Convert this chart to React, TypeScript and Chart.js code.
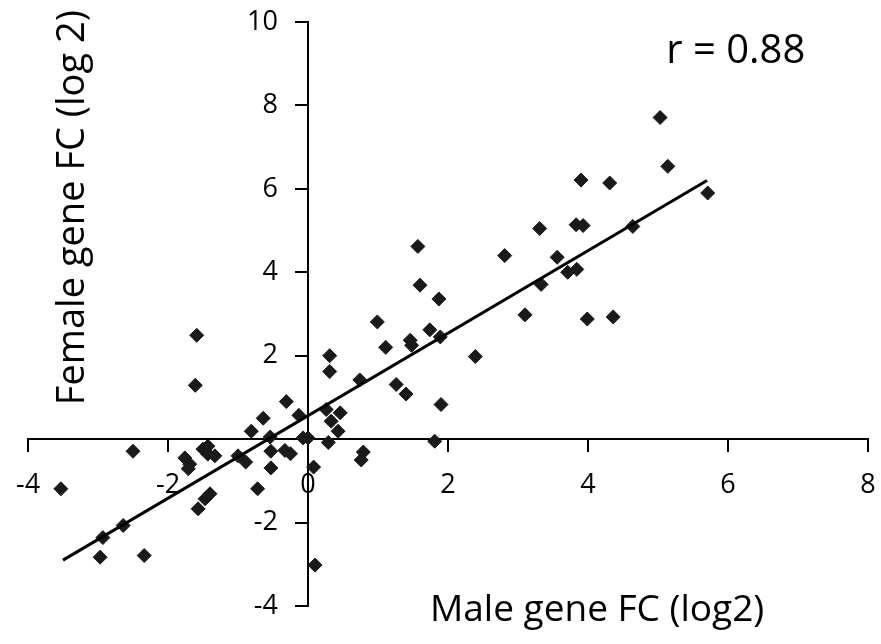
import React, { useEffect, useRef } from "react";
import { Chart, registerables } from "chart.js";

Chart.register(...registerables);

const maleFC = [
  -3.53, -2.5, -2.97, -2.34, -2.93, -2.64, -1.59, -1.61, -1.76, -1.69, -1.71, -1.5, -1.43, -1.33, -1.43,
  -1.4, -1.47, -1.57, -0.72, -0.31, -0.64, -0.81, -0.54, -1.0, -0.89, -0.53, -0.53, -0.33, -0.25, -0.13,
  -0.07, 0.0, 0.08, 0.1, 0.29, 0.33, 0.43, 0.46, 0.26, 0.31, 0.31, 0.74, 0.79, 0.76, 0.99,
  1.11, 1.46, 1.48, 1.26, 1.4, 1.57, 1.6, 1.87, 1.74, 1.89, 1.9, 1.81, 2.39, 2.81, 3.1,
  3.31, 3.33, 3.56, 3.71, 3.84, 3.83, 3.93, 3.99, 4.36, 3.9, 4.31, 4.64, 5.03, 5.14, 5.71,
];
const femaleFC = [
  -1.19, -0.29, -2.83, -2.79, -2.36, -2.07, 2.49, 1.29, -0.45, -0.6, -0.71, -0.24, -0.36, -0.4, -0.17,
  -1.31, -1.43, -1.67, -1.19, 0.9, 0.5, 0.19, 0.05, -0.4, -0.55, -0.29, -0.69, -0.27, -0.35, 0.57,
  0.03, 0.03, -0.67, -3.02, -0.08, 0.43, 0.19, 0.63, 0.71, 2.0, 1.62, 1.42, -0.31, -0.5, 2.81,
  2.2, 2.37, 2.25, 1.31, 1.08, 4.62, 3.69, 3.36, 2.62, 2.45, 0.83, -0.05, 1.98, 4.4, 2.98,
  5.05, 3.71, 4.36, 4.0, 4.07, 5.14, 5.12, 2.88, 2.93, 6.21, 6.14, 5.1, 7.71, 6.54, 5.9,
];
const trendX = [-3.5, 5.7];
const trendY = [-2.9, 6.2];
const xTicks = [-4, -2, 0, 2, 4, 6, 8];
const yTicks = [-4, -2, 0, 2, 4, 6, 8, 10];
const yTickLabels = ["-4", "-2", "", "2", "4", "6", "8", "10"];
const xTickLabels = ["-4", "-2", "0", "2", "4", "6", "8"];
const xTitle = "Male gene FC (log2)";
const yTitle = "Female gene FC (log 2)";
const rLabel = "r = 0.88";

const FONT = '"Open Sans", "DejaVu Sans", sans-serif';

export default function App() {
  const ref = useRef<HTMLCanvasElement | null>(null);
  useEffect(() => {
    if (!ref.current) return;
    const textPlugin = {
      id: "texts",
      afterDraw(chart: any) {
        const ctx = chart.ctx;
        const xs = chart.scales.x;
        const ys = chart.scales.y;
        const x0 = xs.getPixelForValue(0);
        const y0 = ys.getPixelForValue(0);
        ctx.save();
        ctx.fillStyle = "#000";
        ctx.font = `27px ${FONT}`;
        ctx.textBaseline = "middle";
        ctx.textAlign = "right";
        yTicks.forEach((v, i) => {
          ctx.fillText(yTickLabels[i], x0 - 30, ys.getPixelForValue(v));
        });
        ctx.textAlign = "center";
        xTicks.forEach((v, i) => {
          ctx.fillText(xTickLabels[i], xs.getPixelForValue(v), y0 + 46);
        });
        ctx.font = `37px ${FONT}`;
        ctx.fillText(xTitle, xs.getPixelForValue(4.13), ys.getPixelForValue(-4.1));
        ctx.save();
        ctx.translate(xs.getPixelForValue(-3.36), ys.getPixelForValue(5.55));
        ctx.rotate(-Math.PI / 2);
        ctx.font = `38px ${FONT}`;
        ctx.fillText(yTitle, 0, 0);
        ctx.restore();
        ctx.font = `40px ${FONT}`;
        ctx.fillText(rLabel, xs.getPixelForValue(6.11), ys.getPixelForValue(9.29));
        ctx.restore();
      },
    };
    const chart = new Chart(ref.current, {
      type: "scatter",
      data: {
        datasets: [
          {
            type: "line",
            data: trendX.map((x, i) => ({ x, y: trendY[i] })),
            borderColor: "#000",
            borderWidth: 3,
            pointRadius: 0,
            fill: false,
          },
          {
            data: maleFC.map((x, i) => ({ x, y: femaleFC[i] })),
            pointStyle: "rectRot",
            pointRadius: 7,
            backgroundColor: "#1a1a1a",
            borderColor: "#1a1a1a",
            borderWidth: 1,
          },
        ],
      },
      options: {
        responsive: false,
        animation: false,
        devicePixelRatio: 1,
        layout: { padding: { left: 28, right: 13, top: 22, bottom: 38 } },
        plugins: { legend: { display: false }, tooltip: { enabled: false } },
        scales: {
          x: {
            type: "linear",
            position: { y: 0 },
            min: -4,
            max: 8,
            afterBuildTicks: (s: any) => {
              s.ticks = xTicks.map((v) => ({ value: v }));
            },
            ticks: { display: false },
            grid: { drawOnChartArea: false, drawTicks: true, tickLength: 12, color: "#000", lineWidth: 2 },
            border: { display: true, color: "#000", width: 2 },
          },
          y: {
            type: "linear",
            position: { x: 0 },
            min: -4,
            max: 10,
            afterBuildTicks: (s: any) => {
              s.ticks = yTicks.map((v) => ({ value: v }));
            },
            ticks: { display: false },
            grid: { drawOnChartArea: false, drawTicks: true, tickLength: 12, color: "#000", lineWidth: 2 },
            border: { display: true, color: "#000", width: 2 },
          },
        },
      },
      plugins: [textPlugin],
    });
    return () => chart.destroy();
  }, []);
  return (
    <div style={{ position: "absolute", left: 0, top: 0, width: 881, height: 644, background: "#fff" }}>
      <canvas ref={ref} width={881} height={644} />
    </div>
  );
}
